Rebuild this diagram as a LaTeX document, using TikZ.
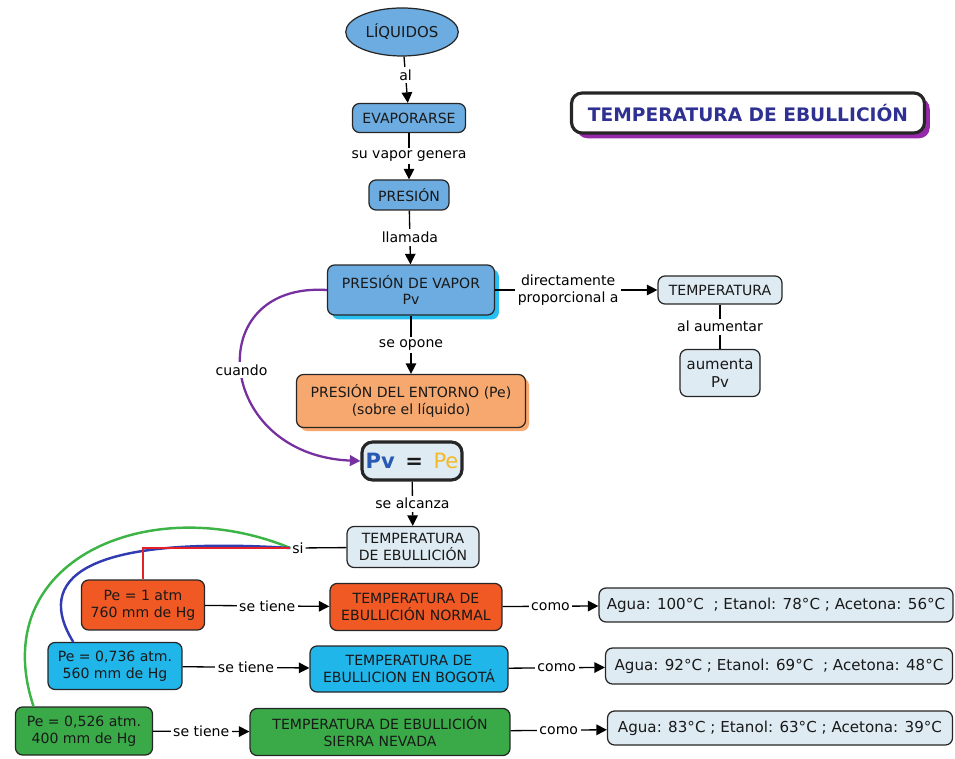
\documentclass[tikz,border=0pt]{standalone}
\usepackage{fontspec}
\setmainfont{DejaVu Sans}
\usetikzlibrary{shapes.geometric,shadows,arrows.meta}

\definecolor{cajaazul}{RGB}{108,172,224}
\definecolor{cajaclara}{RGB}{222,235,242}
\definecolor{cajanaranja}{RGB}{247,168,110}
\definecolor{cajaroja}{RGB}{240,88,36}
\definecolor{cajacian}{RGB}{32,182,234}
\definecolor{cajaverde}{RGB}{58,170,72}
\definecolor{morado}{RGB}{118,48,160}
\definecolor{azultitulo}{RGB}{46,49,146}
\definecolor{azulpv}{RGB}{40,90,180}
\definecolor{amarillope}{RGB}{245,185,40}
\definecolor{sombracian}{RGB}{40,190,240}
\definecolor{sombramorada}{RGB}{150,40,170}
\definecolor{ramaroja}{RGB}{228,32,40}
\definecolor{ramaazul}{RGB}{48,60,176}
\definecolor{ramaverde}{RGB}{60,180,70}

\tikzset{
  caja/.style={draw=black!85, rounded corners=4pt, line width=0.7pt, align=center,
    font=\fontsize{8}{9.6}\selectfont, inner sep=2pt, text=black!90},
  etiqueta/.style={fill=white, font=\fontsize{8}{9.6}\selectfont, align=center, inner sep=1.5pt},
  flecha/.style={line width=0.75pt, -{Triangle[length=6pt,width=6pt]}},
  linea/.style={line width=0.75pt},
  rama/.style={line width=1.4pt}
}

\begin{document}
\begin{tikzpicture}[x=0.02cm,y=-0.02cm]
\useasboundingbox (0,0) rectangle (955,759);

\node[caja,ellipse,fill=cajaazul,minimum width=1.72cm,minimum height=0.96cm,font=\fontsize{8.5}{10}\selectfont] (liq) at (402,32) {LÍQUIDOS};
\node[caja,fill=cajaazul,minimum width=2.26cm,minimum height=0.58cm] (evap) at (409,118) {EVAPORARSE};
\node[caja,fill=cajaazul,minimum width=1.6cm,minimum height=0.6cm] (pres) at (409,195) {PRESIÓN};
\node[caja,fill=cajaazul,minimum width=3.34cm,minimum height=1.0cm,
  drop shadow={shadow xshift=2.5pt,shadow yshift=-2.5pt,fill=sombracian,opacity=1}] (pvap) at (411,290) {PRESIÓN DE VAPOR\\Pv};
\node[caja,fill=cajaclara,minimum width=2.48cm,minimum height=0.56cm] (temp) at (720,290) {TEMPERATURA};
\node[caja,fill=cajaclara,minimum width=1.6cm,minimum height=0.94cm,font=\fontsize{8.5}{10}\selectfont] (aum) at (720,373) {aumenta\\Pv};
\node[caja,fill=cajanaranja,minimum width=4.58cm,minimum height=1.06cm,
  drop shadow={shadow xshift=2pt,shadow yshift=-2pt,fill=cajanaranja,opacity=1}] (ent) at (411,401) {PRESIÓN DEL ENTORNO (Pe)\\(sobre el líquido)};
\node[caja,fill=cajaclara,line width=1.8pt,rounded corners=6pt,minimum width=2.0cm,minimum height=0.76cm,font=\fontsize{12}{14}\selectfont] (pvpe) at (412,461)
  {{\bfseries\color{azulpv}Pv}\enspace{\bfseries =}\enspace{\color{amarillope}Pe}};
\node[caja,fill=cajaclara,minimum width=2.64cm,minimum height=0.82cm] (teb) at (413,547) {TEMPERATURA\\DE EBULLICIÓN};
\node[font=\fontsize{8}{9.6}\selectfont,inner sep=1pt] (si) at (298,548) {si};

\node[caja,fill=cajaroja,minimum width=2.46cm,minimum height=1.0cm] (pe1) at (143,605) {Pe = 1 atm\\760 mm de Hg};
\node[caja,fill=cajacian,minimum width=2.68cm,minimum height=0.94cm] (pe2) at (115,666) {Pe = 0,736 atm.\\560 mm de Hg};
\node[caja,fill=cajaverde,minimum width=2.74cm,minimum height=0.96cm] (pe3) at (84,731) {Pe = 0,526 atm.\\400 mm de Hg};

\node[caja,fill=cajaroja,minimum width=3.44cm,minimum height=0.94cm] (ten) at (416,607) {TEMPERATURA DE\\EBULLICIÓN NORMAL};
\node[caja,fill=cajacian,minimum width=3.96cm,minimum height=0.92cm] (tbog) at (409,669) {TEMPERATURA DE\\EBULLICION EN BOGOTÁ};
\node[caja,fill=cajaverde,minimum width=5.2cm,minimum height=0.94cm] (tsn) at (380,732) {TEMPERATURA DE EBULLICIÓN\\SIERRA NEVADA};

\node[caja,fill=cajaclara,minimum width=7.08cm,minimum height=0.68cm,font=\fontsize{8.6}{10}\selectfont] (v1) at (776,605) {Agua: 100°C \ ; Etanol: 78°C ; Acetona: 56°C};
\node[caja,fill=cajaclara,minimum width=6.94cm,minimum height=0.72cm,font=\fontsize{8.6}{10}\selectfont] (v2) at (779,666) {Agua: 92°C ; Etanol: 69°C \ ; Acetona: 48°C};
\node[caja,fill=cajaclara,minimum width=6.9cm,minimum height=0.68cm,font=\fontsize{8.6}{10}\selectfont] (v3) at (780,728) {Agua: 83°C ; Etanol: 63°C ; Acetona: 39°C};

\node[caja,fill=white,line width=1.8pt,rounded corners=6pt,minimum width=7.06cm,minimum height=0.8cm,
  font=\fontsize{10.6}{12}\selectfont\bfseries,text=azultitulo,
  drop shadow={shadow xshift=3pt,shadow yshift=-3pt,fill=sombramorada,opacity=1}] (titulo) at (748,113) {TEMPERATURA DE EBULLICIÓN};

\draw[flecha] (liq) -- node[etiqueta,pos=0.4]{al} (evap);
\draw[flecha] (evap) -- node[etiqueta]{su vapor genera} (pres);
\draw[flecha] (pres) -- node[etiqueta]{llamada} (pvap);
\draw[flecha] (pvap.east) -- node[etiqueta,pos=0.45]{directamente\\proporcional a} (temp.west);
\draw[linea] (temp) -- node[etiqueta]{al aumentar} (aum);
\draw[flecha] (pvap) -- node[etiqueta]{se opone} (ent);
\draw[flecha,morado,line width=1.3pt] (pvap.west) .. controls (200,282) and (215,455) .. node[etiqueta,text=black]{cuando} (pvpe.west);
\draw[flecha] (pvpe) -- node[etiqueta]{se alcanza} (teb);
\draw[linea] (teb) -- (si);

\draw[rama,ramaverde] (si.west) .. controls (150,490) and (-15,560) .. (pe3.154);
\draw[rama,ramaazul] (si.west) .. controls (80,535) and (35,580) .. (pe2.150);
\draw[rama,ramaroja] (si.west) -| (pe1.north);

\draw[flecha] (pe1) -- node[etiqueta]{se tiene} (ten);
\draw[flecha] (pe2) -- node[etiqueta]{se tiene} (tbog);
\draw[flecha] (pe3) -- node[etiqueta]{se tiene} (tsn);
\draw[flecha] (ten) -- node[etiqueta]{como} (v1);
\draw[flecha] (tbog) -- node[etiqueta]{como} (v2);
\draw[flecha] (tsn) -- node[etiqueta]{como} (v3);

\end{tikzpicture}
\end{document}
